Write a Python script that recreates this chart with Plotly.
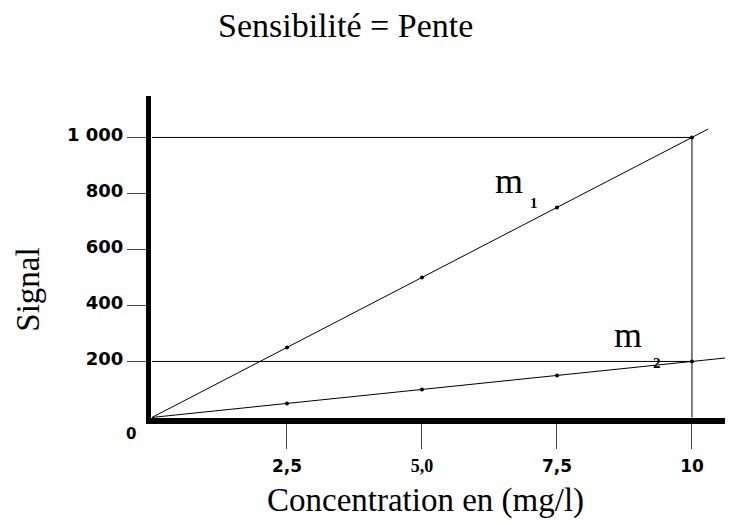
import plotly.graph_objects as go

# Data
conc = [0, 2.5, 5.0, 7.5, 10]
signal_m1 = [0, 250, 500, 750, 1000]
signal_m2 = [0, 50, 100, 150, 200]
line_m1_x = [0, 10.3]
line_m1_y = [0, 1030]
line_m2_x = [0, 10.8]
line_m2_y = [0, 216]

x_tickvals = [2.5, 5.0, 7.5, 10]
x_ticktext = ["2,5", "<span style=\"font-family:'Liberation Serif';font-size:18px\">5,0</span>", "7,5", "10"]
y_tickvals = [200, 400, 600, 800, 1000]
y_ticktext = ["200", "400", "600", "800", "1 000"]

fig = go.Figure()

# reference lines
fig.add_trace(go.Scatter(x=[0, 10, 10], y=[1000, 1000, 0], mode="lines",
                         line=dict(color="black", width=1), hoverinfo="skip", showlegend=False))
fig.add_trace(go.Scatter(x=[0, 10], y=[200, 200], mode="lines",
                         line=dict(color="black", width=1), hoverinfo="skip", showlegend=False))
# regression lines
fig.add_trace(go.Scatter(x=line_m1_x, y=line_m1_y, mode="lines",
                         line=dict(color="black", width=1), showlegend=False))
fig.add_trace(go.Scatter(x=line_m2_x, y=line_m2_y, mode="lines",
                         line=dict(color="black", width=1), showlegend=False))
# points
fig.add_trace(go.Scatter(x=conc[1:], y=signal_m1[1:], mode="markers",
                         marker=dict(color="black", size=4), showlegend=False))
fig.add_trace(go.Scatter(x=conc[1:], y=signal_m2[1:], mode="markers",
                         marker=dict(color="black", size=4), showlegend=False))

# page body has an 8px margin: positions below are window pixels
PL, PW, PB, PH = 151, 582, 418.5, 322.5


def px(xw):
    return (xw - PL) / PW


def py(yw):
    return (PB - yw) / PH


serif = "Liberation Serif, Times New Roman, serif"
ann = [
    dict(text="Sensibilité = Pente", xref="paper", yref="paper", x=px(345), y=py(25),
         font=dict(family=serif, size=34, color="black")),
    dict(text="Concentration en (mg/l)", xref="paper", yref="paper", x=px(425), y=py(501),
         font=dict(family=serif, size=33, color="black")),
    dict(text="Signal", xref="paper", yref="paper", x=px(28), y=py(290),
         textangle=-90, font=dict(family=serif, size=33, color="black")),
    dict(text="m", x=6.61, y=845, font=dict(family=serif, size=36, color="black")),
    dict(text="<b>1</b>", x=7.07, y=766, font=dict(family=serif, size=15, color="black")),
    dict(text="m", x=8.81, y=296, font=dict(family=serif, size=36, color="black")),
    dict(text="<b>2</b>", x=9.35, y=196, font=dict(family=serif, size=15, color="black")),
    dict(text="<b>0</b>", x=0, y=0, xshift=-21, yshift=-17,
         font=dict(family="DejaVu Sans", size=15, color="black")),
]
for a in ann:
    a.setdefault("showarrow", False)
    a.setdefault("xanchor", "center")
    a.setdefault("yanchor", "middle")
    fig.add_annotation(**a)

OFF = 8
fig.update_layout(
    width=733, height=525,
    margin=dict(l=PL - OFF, r=OFF, t=96 - OFF, b=525 - (PB - OFF)),
    plot_bgcolor="white", paper_bgcolor="white",
    showlegend=False,
    xaxis=dict(range=[-0.0185, 10.76], showgrid=False, zeroline=False,
               showline=True, linecolor="black", linewidth=6,
               ticks="outside", ticklen=25, tickwidth=1, tickcolor="#444",
               tickvals=x_tickvals, ticktext=x_ticktext, ticklabelstandoff=3,
               tickfont=dict(family="DejaVu Sans", size=17, color="black", weight="bold")),
    yaxis=dict(range=[-2, 1148], showgrid=False, zeroline=False,
               showline=True, linecolor="black", linewidth=5,
               ticks="outside", ticklen=19, tickwidth=1, tickcolor="#444",
               tickvals=y_tickvals, ticktext=y_ticktext, ticklabelshift=-3,
               tickfont=dict(family="DejaVu Sans", size=18, color="black", weight="bold")),
)

fig.write_html("out.html")
